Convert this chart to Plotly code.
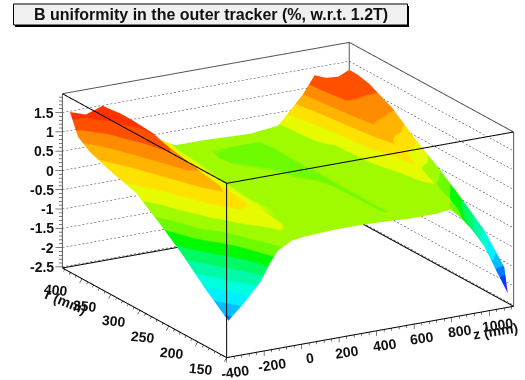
import plotly.graph_objects as go

# ---- data ----
z_mm = [-360, -275, -185, -140, -95, -20, 50, 200, 350, 500, 600, 750, 825, 885, 945, 1005, 1070, 1130]
r_mm = [160, 166, 200, 240, 280, 320, 360, 400, 420, 434]
r160 = [-1.69, -1.3, -.8, -.4, -.1, .1, .14, .18, .18, .15, .12, .12, .17, -.12, -.5, -.95, -1.65, -2.27]
r166 = [-1.62, -1.25, -.75, -.35, -.08, .12, .15, .18, .18, .15, .1, .12, .15, -.08, -.45, -.85, -1.35, -1.65]
r200 = [-1.19, -.75, -.27, .02, .15, .28, .17, .18, .1, .08, -.05, .1, .1, .08, 0, -.4, -.7, -.98]
r240 = [-.62, -.07, .27, .42, .55, .42, .2, .15, .1, .06, -.05, .08, .1, .12, .3, -.05, -.25, -.47]
r280 = [-.13, .25, .55, .72, .8, .5, .22, .1, .1, .02, -.05, .08, .1, .22, .55, .28, .2, 0]
r320 = [.32, .5, .8, .98, .95, .55, .25, .1, .06, -.04, -.06, .1, .12, .46, .8, .7, .62, .42]
r360 = [.5, .72, 1.05, 1.33, 1.08, .6, .3, .1, -.02, -.06, -.06, .12, .18, .6, 1, 1, .95, .9]
r400 = [.73, 1, 1.38, 1.38, 1.1, .7, .4, .1, -.06, -.08, -.07, .12, .4, .75, 1.18, 1.18, 1.18, 1.2]
r420 = [.95, 1.3, 1.47, 1.38, 1.1, .75, .45, .1, -.03, -.06, -.05, .12, .5, .82, 1.27, 1.2, 1.2, 1.27]
r434 = [1.48, 1.34, 1.49, 1.35, 1.1, .8, .55, .13, .13, .1, .08, .16, .55, .875, 1.3, 1.18, 1.15, 1.28]
values = [r160, r166, r200, r240, r280, r320, r360, r400, r420, r434]

z_ticks = [-400, -200, 0, 200, 400, 600, 800, 1000]
r_ticks = [150, 200, 250, 300, 350, 400]
v_ticks = [-2.5, -2, -1.5, -1, -0.5, 0, 0.5, 1, 1.5]
v_labels = ["-2.5", "-2", "-1.5", "-1", "-0.5", "0", "0.5", "1", "1.5"]
title = "B uniformity in the outer tracker (%, w.r.t. 1.2T)"

palette = ["#5a1eff", "#3c28ff", "#003cff", "#0078ff", "#00beff", "#00f0ff", "#00ffdc", "#00faaa",
           "#00fa64", "#00fa00", "#6efa00", "#a0fa00", "#e6fa00", "#ffe100", "#ffb400", "#ff8c00",
           "#ff5000", "#ff3200", "#ff1400", "#ff0000"]

# ---- box limits ----
X0, X1 = -400, 1130
Y0, Y1 = 150, 434
V0, V1 = -2.53, 1.99
PAD = 0.1
dX, dY, dV = (X1 - X0) * PAD, (Y1 - Y0) * PAD, (V1 - V0) * PAD

colorscale = []
for i, c in enumerate(palette):
    colorscale += [[i / 20, c], [(i + 1) / 20, c]]


def poly(segments):
    xs, ys, zs = [], [], []
    for seg in segments:
        for p in seg:
            xs.append(p[0]); ys.append(p[1]); zs.append(p[2])
        xs.append(None); ys.append(None); zs.append(None)
    return xs, ys, zs


def line3d(segments, color, width=1):
    xs, ys, zs = poly(segments)
    return go.Scatter3d(x=xs, y=ys, z=zs, mode="lines", hoverinfo="skip", showlegend=False,
                        line=dict(color=color, width=width))


def dotted(p0, p1, n):
    out = []
    for i in range(n):
        t0, t1 = i / n, (i + 0.5) / n
        out.append([tuple(a + (b - a) * t0 for a, b in zip(p0, p1)),
                    tuple(a + (b - a) * t1 for a, b in zip(p0, p1))])
    return out


fig = go.Figure()
fig.add_trace(go.Surface(x=z_mm, y=r_mm, z=values, colorscale=colorscale, cmin=-2.5, cmax=2,
                         showscale=False, hoverinfo="skip",
                         lighting=dict(ambient=1, diffuse=0, specular=0, roughness=1, fresnel=0),
                         contours=dict(x=dict(highlight=False), y=dict(highlight=False), z=dict(highlight=False))))

# dotted grid on the back walls
grid = []
for v in v_ticks:
    grid += dotted((X0, Y1, v), (X1, Y1, v), 72)
    grid += dotted((X1, Y1, v), (X1, Y0, v), 48)
fig.add_trace(line3d(grid, "#333333", 1))

# box: back lines grey, others black
fig.add_trace(line3d([[(X0, Y1, V1), (X1, Y1, V1), (X1, Y0, V1)], [(X1, Y0, V0), (X1, Y0, V1)],
                      [(X1, Y1, V0), (X1, Y1, V1)], [(X0, Y1, V0), (X0, Y1, V1)]], "#555555", 2))
fig.add_trace(line3d([[(X0, Y1, V1), (X0, Y0, V1), (X1, Y0, V1)], [(X0, Y0, V0), (X0, Y0, V1)],
                      [(X0, Y1, V0), (X0, Y0, V0), (X1, Y0, V0)],
                      [(X0, Y1, V0), (X1, Y1, V0), (X1, Y0, V0)]], "#000000", 2))

# tick marks
ticks = []
step = 40
t = -400
while t <= X1:
    L = 0.13 if t % 200 == 0 else 0.07
    ticks.append([(t, Y0, V0), (t, Y0, V0 - L)])
    t += step
for t in range(150, Y1 + 1, 10):
    L = 1.0 if t % 50 == 0 else 0.5
    ticks.append([(X0, t, V0), (X0 - 13 * L, t, V0 - 0.1 * L)])
for k in range(-25, 20):
    L = 1.0 if k % 5 == 0 else 0.5
    ticks.append([(X0, Y1, k / 10), (X0 - 28 * L, Y1 + 3.0 * L, k / 10)])
fig.add_trace(line3d(ticks, "#000000", 1))

ann = []
font = dict(family="Liberation Sans", size=14, color="#111111", weight=700)
for t in z_ticks:
    ann.append(dict(x=t, y=Y0, z=V0, text=str(t), showarrow=False, font=font, textangle=-8,
                    xshift=8, yshift=-14))
for t in r_ticks:
    ann.append(dict(x=X0, y=t, z=V0, text=str(t), showarrow=False, font=font, textangle=6,
                    xshift=-26, yshift=-11))
for t, s in zip(v_ticks, v_labels):
    ann.append(dict(x=X0, y=Y1, z=t, text=s, showarrow=False, font=font, xanchor="right",
                    xshift=-6, yshift=0))
ann.append(dict(x=X1, y=Y0, z=V0, text="z (mm)", showarrow=False, font=font, textangle=-9,
                xshift=-18, yshift=-25))
ann.append(dict(x=X0, y=Y1, z=V0, text="r (mm)", showarrow=False, font=font, textangle=22,
                xshift=4, yshift=-34))

EYE = 3
A = 2.204
axis = dict(visible=False, showspikes=False)
fig.update_layout(
    width=525, height=380, margin=dict(l=0, r=0, t=0, b=0),
    paper_bgcolor="white", showlegend=False,
    scene=dict(
        domain=dict(x=[0.0972, 1], y=[0, 0.947]),
        xaxis=dict(axis, range=[X0 - dX, X1 + dX]),
        yaxis=dict(axis, range=[Y0 - dY, Y1 + dY]),
        zaxis=dict(axis, range=[V0 - dV, V1 + dV]),
        aspectmode="manual", aspectratio=dict(x=A, y=A, z=A * 0.555),
        camera=dict(projection=dict(type="orthographic"), up=dict(x=0, y=0, z=1),
                    center=dict(x=0, y=0, z=0),
                    eye=dict(x=-0.497 * 0.95 * EYE, y=-0.868 * 0.95 * EYE, z=0.3125 * EYE)),
        annotations=ann,
    ),
    shapes=[
        dict(type="rect", xref="paper", yref="paper", x0=15 / 525, x1=409 / 525, y0=1 - 27 / 380, y1=1 - 6 / 380,
             fillcolor="#000000", line=dict(width=0)),
        dict(type="rect", xref="paper", yref="paper", x0=13.5 / 525, x1=407.5 / 525, y0=1 - 25 / 380, y1=1 - 4 / 380,
             fillcolor="#f0f0f0", line=dict(color="#000000", width=1)),
    ],
    annotations=[dict(xref="paper", yref="paper", x=210.5 / 525, y=1 - 14.5 / 380, text=title, showarrow=False,
                      xanchor="center", yanchor="middle",
                      font=dict(family="Liberation Sans", size=16, color="#111111", weight=700))],
)
fig.write_html("out.html", config={"displayModeBar": False}, post_script="document.body.style.margin='0';")
